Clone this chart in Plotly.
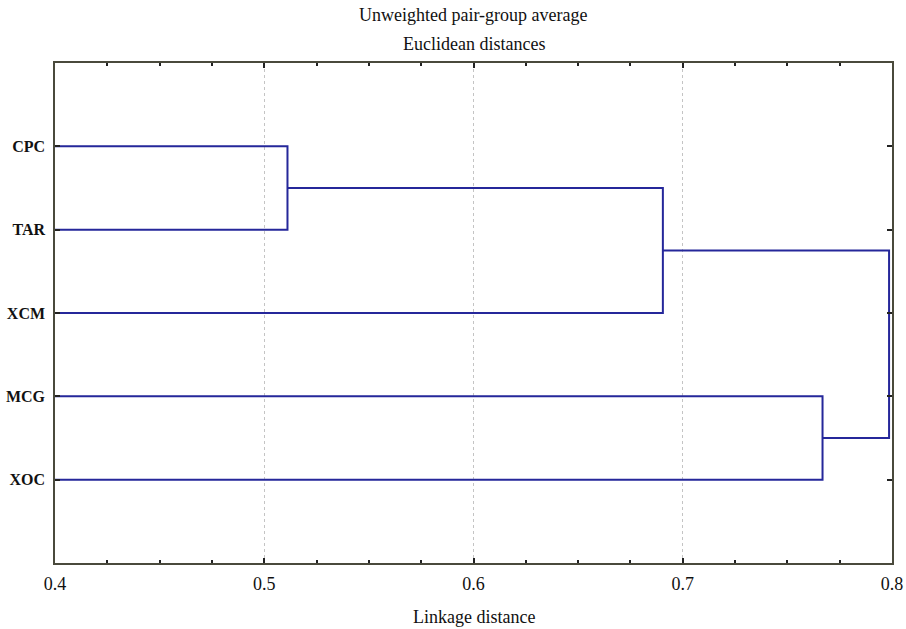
import plotly.graph_objects as go

# ---- data ----
leaf_labels = ["CPC", "TAR", "XCM", "MCG", "XOC"]
# merges: (left node, right node, linkage distance); nodes 0-4 are leaves, 5+ are clusters
merge_left = [0, 5, 3, 6]
merge_right = [1, 2, 4, 7]
merge_height = [0.5111, 0.6905, 0.7668, 0.7986]

x_ticks = [0.4, 0.5, 0.6, 0.7, 0.8]
x_tick_text = ["0.4", "0.5", "0.6", "0.7", "0.8"]

title_line1 = "Unweighted pair-group average"
title_line2 = "Euclidean distances"
x_title = "Linkage distance"

# ---- build dendrogram links ----
node_pos = {i: i + 1 for i in range(len(leaf_labels))}
node_h = {i: 0.0 for i in range(len(leaf_labels))}
fig = go.Figure()
LINE = "#25279a"
for k, (a, b, h) in enumerate(zip(merge_left, merge_right, merge_height)):
    nid = len(leaf_labels) + k
    ya, yb = node_pos[a], node_pos[b]
    xs = [node_h[a], h, h, node_h[b]]
    ys = [ya, ya, yb, yb]
    fig.add_trace(go.Scatter(x=xs, y=ys, mode="lines",
                             line=dict(color=LINE, width=2),
                             hoverinfo="skip", showlegend=False))
    node_pos[nid] = (ya + yb) / 2
    node_h[nid] = h

FONT = "Liberation Serif"
FRAME = "#4a4a3c"
fig.update_layout(
    width=906, height=629,
    margin=dict(l=55, r=14, t=63, b=66, autoexpand=False),
    paper_bgcolor="white", plot_bgcolor="white",
    font=dict(family=FONT, size=17, color="#111111"),
    showlegend=False,
)
fig.update_xaxes(
    range=[0.4, 0.8], tickvals=x_ticks, ticktext=x_tick_text,
    ticks="inside", ticklen=5, tickwidth=1.5, tickcolor="#222222",
    minor=dict(ticks="inside", ticklen=3, tickwidth=1.5, tickcolor="#222222",
               dtick=0.025, tick0=0.4, showgrid=False),
    showgrid=True, gridcolor="#c4c4c4", griddash="dot", gridwidth=1,
    showline=True, linecolor=FRAME, linewidth=1.5, mirror="ticks",
    zeroline=False, tickfont=dict(family=FONT, size=18, color="#111111"),
    ticklabelstandoff=4, automargin=False,
)
fig.update_yaxes(
    range=[6, 0], tickvals=list(range(1, len(leaf_labels) + 1)), ticktext=leaf_labels,
    ticks="inside", ticklen=5, tickwidth=1.5, tickcolor="#222222",
    showgrid=False, zeroline=False,
    showline=True, linecolor=FRAME, linewidth=1.5, mirror="ticks",
    tickfont=dict(family=FONT, size=16, color="#111111", weight="bold"),
    ticklabelstandoff=5, automargin=False,
)

ann_font = dict(family=FONT, size=18, color="#111111")
fig.add_annotation(text=title_line1, xref="paper", yref="paper", x=0.5, y=1,
                   yshift=48, showarrow=False, font=ann_font, yanchor="middle")
fig.add_annotation(text=title_line2, xref="paper", yref="paper", x=0.5, y=1,
                   yshift=19, showarrow=False, font=ann_font, yanchor="middle")
fig.add_annotation(text=x_title, xref="paper", yref="paper", x=0.5, y=0,
                   yshift=-54, showarrow=False, font=ann_font, yanchor="middle")

fig.write_html("out.html",
               config={"displayModeBar": False},
               post_script="document.body.style.margin='0';"
                           "document.body.style.overflow='hidden';")
